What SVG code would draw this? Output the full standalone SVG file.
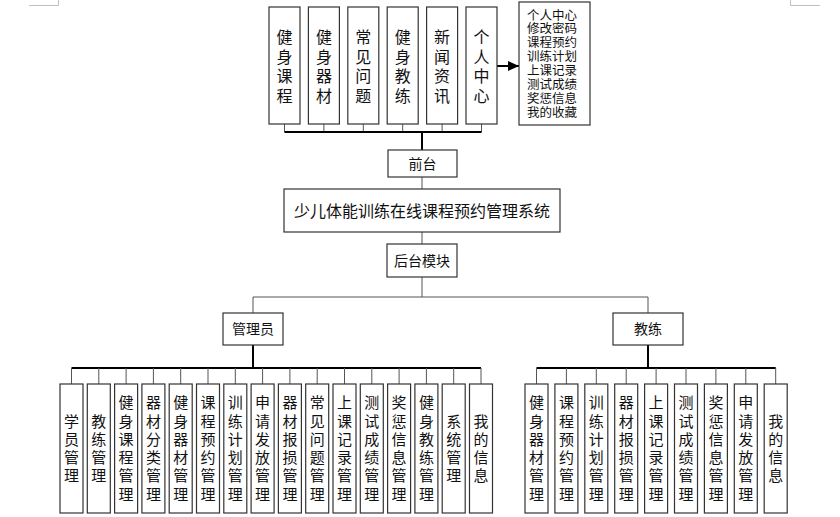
<svg xmlns="http://www.w3.org/2000/svg" width="840" height="517" viewBox="0 0 840 517">
<style>
  .box{fill:#fff;stroke:#333;stroke-width:1.2}
  .t{font-family:"Noto Sans CJK SC","Microsoft YaHei",sans-serif;fill:#111;text-anchor:middle}
  .v16{font-size:16px}
  .v15{font-size:15px}
  .s14{font-size:14px}
  .s12{font-size:12.5px}
  .thin{stroke:#555;stroke-width:1;fill:none}
  .thick{stroke:#000;stroke-width:2;fill:none}
  .mark{stroke:#c0c0c0;stroke-width:1;fill:none}
</style>
<defs>
  <marker id="ah" markerWidth="11" markerHeight="10" refX="11" refY="5" orient="auto" markerUnits="userSpaceOnUse">
    <path d="M0,0 L11,5 L0,10 Z" fill="#000"/>
  </marker>
</defs>
<rect width="840" height="517" fill="#fff"/>
<g id="page-marks">
  <path class="mark" d="M29,5.5 H58.5 V0"/>
  <path class="mark" d="M790.5,0 V5.5 H820"/>
</g>
<g id="connectors">
  <path class="thin" d="M284.5,124 V132 M323.9,124 V132 M363.3,124 V132 M402.7,124 V132 M442.1,124 V132 M481.5,124 V132"/>
  <path class="thick" d="M284.5,132 H481.5"/>
  <path class="thick" d="M422,132 V150"/>
  <path class="thick" d="M496,66 H519" marker-end="url(#ah)"/>
  <path class="thin" d="M422,177 V189 M422,232 V244 M422,277 V297"/>
  <path class="thin" d="M253,313 V297 H648 V313"/>
  <path class="thick" d="M253,345 V368 M648,345 V368"/>
  <path class="thick" d="M71.5,368 H481"/>
  <path class="thin" d="M71.5,368 V384 M98.8,368 V384 M126.1,368 V384 M153.4,368 V384 M180.7,368 V384 M208,368 V384 M235.3,368 V384 M262.6,368 V384 M289.9,368 V384 M317.2,368 V384 M344.5,368 V384 M371.8,368 V384 M399.1,368 V384 M426.4,368 V384 M453.7,368 V384 M481,368 V384"/>
  <path class="thick" d="M536.5,368 H775.7"/>
  <path class="thin" d="M536.5,368 V384 M566.4,368 V384 M596.3,368 V384 M626.2,368 V384 M656.1,368 V384 M686,368 V384 M715.9,368 V384 M745.8,368 V384 M775.7,368 V384"/>
</g>

<g id="f1"><rect class="box" x="269" y="7" width="31" height="117"/><text class="t v16"><tspan x="284.5" y="43">健</tspan><tspan x="284.5" y="62.5">身</tspan><tspan x="284.5" y="82">课</tspan><tspan x="284.5" y="101.5">程</tspan></text></g>
<g id="f2"><rect class="box" x="308.4" y="7" width="31" height="117"/><text class="t v16"><tspan x="323.9" y="43">健</tspan><tspan x="323.9" y="62.5">身</tspan><tspan x="323.9" y="82">器</tspan><tspan x="323.9" y="101.5">材</tspan></text></g>
<g id="f3"><rect class="box" x="347.8" y="7" width="31" height="117"/><text class="t v16"><tspan x="363.3" y="43">常</tspan><tspan x="363.3" y="62.5">见</tspan><tspan x="363.3" y="82">问</tspan><tspan x="363.3" y="101.5">题</tspan></text></g>
<g id="f4"><rect class="box" x="387.2" y="7" width="31" height="117"/><text class="t v16"><tspan x="402.7" y="43">健</tspan><tspan x="402.7" y="62.5">身</tspan><tspan x="402.7" y="82">教</tspan><tspan x="402.7" y="101.5">练</tspan></text></g>
<g id="f5"><rect class="box" x="426.6" y="7" width="31" height="117"/><text class="t v16"><tspan x="442.1" y="43">新</tspan><tspan x="442.1" y="62.5">闻</tspan><tspan x="442.1" y="82">资</tspan><tspan x="442.1" y="101.5">讯</tspan></text></g>
<g id="f6"><rect class="box" x="466" y="7" width="31" height="117"/><text class="t v16"><tspan x="481.5" y="43">个</tspan><tspan x="481.5" y="62.5">人</tspan><tspan x="481.5" y="82">中</tspan><tspan x="481.5" y="101.5">心</tspan></text></g>
<g id="personal-list"><rect class="box" x="519" y="2" width="71" height="123"/>
<text class="t s12"><tspan x="552" y="19.5">个人中心</tspan><tspan x="552" y="33.4">修改密码</tspan><tspan x="552" y="47.3">课程预约</tspan><tspan x="552" y="61.2">训练计划</tspan><tspan x="552" y="75.1">上课记录</tspan><tspan x="552" y="89">测试成绩</tspan><tspan x="552" y="102.9">奖惩信息</tspan><tspan x="552" y="116.8">我的收藏</tspan></text></g>

<g id="qiantai"><rect class="box" x="388" y="150" width="69" height="27"/><text class="t s14" x="422.5" y="168.5">前台</text></g>
<g id="system"><rect class="box" x="284" y="189" width="276" height="43"/><text class="t v16" x="422" y="216.5">少儿体能训练在线课程预约管理系统</text></g>
<g id="houtai"><rect class="box" x="387" y="244" width="70" height="33"/><text class="t s14" x="422" y="265.5">后台模块</text></g>
<g id="admin"><rect class="box" x="223" y="313" width="60" height="32"/><text class="t s14" x="253" y="334">管理员</text></g>
<g id="coach"><rect class="box" x="613" y="313" width="70" height="32"/><text class="t s14" x="648" y="334">教练</text></g>

<g id="a1"><rect class="box" x="60" y="384" width="23" height="129"/><text class="t v15"><tspan x="71.5" y="426.5">学</tspan><tspan x="71.5" y="444.8">员</tspan><tspan x="71.5" y="463.1">管</tspan><tspan x="71.5" y="481.4">理</tspan></text></g>
<g id="a2"><rect class="box" x="87.3" y="384" width="23" height="129"/><text class="t v15"><tspan x="98.8" y="426.5">教</tspan><tspan x="98.8" y="444.8">练</tspan><tspan x="98.8" y="463.1">管</tspan><tspan x="98.8" y="481.4">理</tspan></text></g>
<g id="a3"><rect class="box" x="114.6" y="384" width="23" height="129"/><text class="t v15"><tspan x="126.1" y="408.2">健</tspan><tspan x="126.1" y="426.5">身</tspan><tspan x="126.1" y="444.8">课</tspan><tspan x="126.1" y="463.1">程</tspan><tspan x="126.1" y="481.4">管</tspan><tspan x="126.1" y="499.7">理</tspan></text></g>
<g id="a4"><rect class="box" x="141.9" y="384" width="23" height="129"/><text class="t v15"><tspan x="153.4" y="408.2">器</tspan><tspan x="153.4" y="426.5">材</tspan><tspan x="153.4" y="444.8">分</tspan><tspan x="153.4" y="463.1">类</tspan><tspan x="153.4" y="481.4">管</tspan><tspan x="153.4" y="499.7">理</tspan></text></g>
<g id="a5"><rect class="box" x="169.2" y="384" width="23" height="129"/><text class="t v15"><tspan x="180.7" y="408.2">健</tspan><tspan x="180.7" y="426.5">身</tspan><tspan x="180.7" y="444.8">器</tspan><tspan x="180.7" y="463.1">材</tspan><tspan x="180.7" y="481.4">管</tspan><tspan x="180.7" y="499.7">理</tspan></text></g>
<g id="a6"><rect class="box" x="196.5" y="384" width="23" height="129"/><text class="t v15"><tspan x="208" y="408.2">课</tspan><tspan x="208" y="426.5">程</tspan><tspan x="208" y="444.8">预</tspan><tspan x="208" y="463.1">约</tspan><tspan x="208" y="481.4">管</tspan><tspan x="208" y="499.7">理</tspan></text></g>
<g id="a7"><rect class="box" x="223.8" y="384" width="23" height="129"/><text class="t v15"><tspan x="235.3" y="408.2">训</tspan><tspan x="235.3" y="426.5">练</tspan><tspan x="235.3" y="444.8">计</tspan><tspan x="235.3" y="463.1">划</tspan><tspan x="235.3" y="481.4">管</tspan><tspan x="235.3" y="499.7">理</tspan></text></g>
<g id="a8"><rect class="box" x="251.1" y="384" width="23" height="129"/><text class="t v15"><tspan x="262.6" y="408.2">申</tspan><tspan x="262.6" y="426.5">请</tspan><tspan x="262.6" y="444.8">发</tspan><tspan x="262.6" y="463.1">放</tspan><tspan x="262.6" y="481.4">管</tspan><tspan x="262.6" y="499.7">理</tspan></text></g>
<g id="a9"><rect class="box" x="278.4" y="384" width="23" height="129"/><text class="t v15"><tspan x="289.9" y="408.2">器</tspan><tspan x="289.9" y="426.5">材</tspan><tspan x="289.9" y="444.8">报</tspan><tspan x="289.9" y="463.1">损</tspan><tspan x="289.9" y="481.4">管</tspan><tspan x="289.9" y="499.7">理</tspan></text></g>
<g id="a10"><rect class="box" x="305.7" y="384" width="23" height="129"/><text class="t v15"><tspan x="317.2" y="408.2">常</tspan><tspan x="317.2" y="426.5">见</tspan><tspan x="317.2" y="444.8">问</tspan><tspan x="317.2" y="463.1">题</tspan><tspan x="317.2" y="481.4">管</tspan><tspan x="317.2" y="499.7">理</tspan></text></g>
<g id="a11"><rect class="box" x="333" y="384" width="23" height="129"/><text class="t v15"><tspan x="344.5" y="408.2">上</tspan><tspan x="344.5" y="426.5">课</tspan><tspan x="344.5" y="444.8">记</tspan><tspan x="344.5" y="463.1">录</tspan><tspan x="344.5" y="481.4">管</tspan><tspan x="344.5" y="499.7">理</tspan></text></g>
<g id="a12"><rect class="box" x="360.3" y="384" width="23" height="129"/><text class="t v15"><tspan x="371.8" y="408.2">测</tspan><tspan x="371.8" y="426.5">试</tspan><tspan x="371.8" y="444.8">成</tspan><tspan x="371.8" y="463.1">绩</tspan><tspan x="371.8" y="481.4">管</tspan><tspan x="371.8" y="499.7">理</tspan></text></g>
<g id="a13"><rect class="box" x="387.6" y="384" width="23" height="129"/><text class="t v15"><tspan x="399.1" y="408.2">奖</tspan><tspan x="399.1" y="426.5">惩</tspan><tspan x="399.1" y="444.8">信</tspan><tspan x="399.1" y="463.1">息</tspan><tspan x="399.1" y="481.4">管</tspan><tspan x="399.1" y="499.7">理</tspan></text></g>
<g id="a14"><rect class="box" x="414.9" y="384" width="23" height="129"/><text class="t v15"><tspan x="426.4" y="408.2">健</tspan><tspan x="426.4" y="426.5">身</tspan><tspan x="426.4" y="444.8">教</tspan><tspan x="426.4" y="463.1">练</tspan><tspan x="426.4" y="481.4">管</tspan><tspan x="426.4" y="499.7">理</tspan></text></g>
<g id="a15"><rect class="box" x="442.2" y="384" width="23" height="129"/><text class="t v15"><tspan x="453.7" y="426.5">系</tspan><tspan x="453.7" y="444.8">统</tspan><tspan x="453.7" y="463.1">管</tspan><tspan x="453.7" y="481.4">理</tspan></text></g>
<g id="a16"><rect class="box" x="469.5" y="384" width="23" height="129"/><text class="t v15"><tspan x="481" y="426.5">我</tspan><tspan x="481" y="444.8">的</tspan><tspan x="481" y="463.1">信</tspan><tspan x="481" y="481.4">息</tspan></text></g>

<g id="c1"><rect class="box" x="525" y="384" width="23" height="129"/><text class="t v15"><tspan x="536.5" y="408.2">健</tspan><tspan x="536.5" y="426.5">身</tspan><tspan x="536.5" y="444.8">器</tspan><tspan x="536.5" y="463.1">材</tspan><tspan x="536.5" y="481.4">管</tspan><tspan x="536.5" y="499.7">理</tspan></text></g>
<g id="c2"><rect class="box" x="554.9" y="384" width="23" height="129"/><text class="t v15"><tspan x="566.4" y="408.2">课</tspan><tspan x="566.4" y="426.5">程</tspan><tspan x="566.4" y="444.8">预</tspan><tspan x="566.4" y="463.1">约</tspan><tspan x="566.4" y="481.4">管</tspan><tspan x="566.4" y="499.7">理</tspan></text></g>
<g id="c3"><rect class="box" x="584.8" y="384" width="23" height="129"/><text class="t v15"><tspan x="596.3" y="408.2">训</tspan><tspan x="596.3" y="426.5">练</tspan><tspan x="596.3" y="444.8">计</tspan><tspan x="596.3" y="463.1">划</tspan><tspan x="596.3" y="481.4">管</tspan><tspan x="596.3" y="499.7">理</tspan></text></g>
<g id="c4"><rect class="box" x="614.7" y="384" width="23" height="129"/><text class="t v15"><tspan x="626.2" y="408.2">器</tspan><tspan x="626.2" y="426.5">材</tspan><tspan x="626.2" y="444.8">报</tspan><tspan x="626.2" y="463.1">损</tspan><tspan x="626.2" y="481.4">管</tspan><tspan x="626.2" y="499.7">理</tspan></text></g>
<g id="c5"><rect class="box" x="644.6" y="384" width="23" height="129"/><text class="t v15"><tspan x="656.1" y="408.2">上</tspan><tspan x="656.1" y="426.5">课</tspan><tspan x="656.1" y="444.8">记</tspan><tspan x="656.1" y="463.1">录</tspan><tspan x="656.1" y="481.4">管</tspan><tspan x="656.1" y="499.7">理</tspan></text></g>
<g id="c6"><rect class="box" x="674.5" y="384" width="23" height="129"/><text class="t v15"><tspan x="686" y="408.2">测</tspan><tspan x="686" y="426.5">试</tspan><tspan x="686" y="444.8">成</tspan><tspan x="686" y="463.1">绩</tspan><tspan x="686" y="481.4">管</tspan><tspan x="686" y="499.7">理</tspan></text></g>
<g id="c7"><rect class="box" x="704.4" y="384" width="23" height="129"/><text class="t v15"><tspan x="715.9" y="408.2">奖</tspan><tspan x="715.9" y="426.5">惩</tspan><tspan x="715.9" y="444.8">信</tspan><tspan x="715.9" y="463.1">息</tspan><tspan x="715.9" y="481.4">管</tspan><tspan x="715.9" y="499.7">理</tspan></text></g>
<g id="c8"><rect class="box" x="734.3" y="384" width="23" height="129"/><text class="t v15"><tspan x="745.8" y="408.2">申</tspan><tspan x="745.8" y="426.5">请</tspan><tspan x="745.8" y="444.8">发</tspan><tspan x="745.8" y="463.1">放</tspan><tspan x="745.8" y="481.4">管</tspan><tspan x="745.8" y="499.7">理</tspan></text></g>
<g id="c9"><rect class="box" x="764.2" y="384" width="23" height="129"/><text class="t v15"><tspan x="775.7" y="426.5">我</tspan><tspan x="775.7" y="444.8">的</tspan><tspan x="775.7" y="463.1">信</tspan><tspan x="775.7" y="481.4">息</tspan></text></g>
</svg>
